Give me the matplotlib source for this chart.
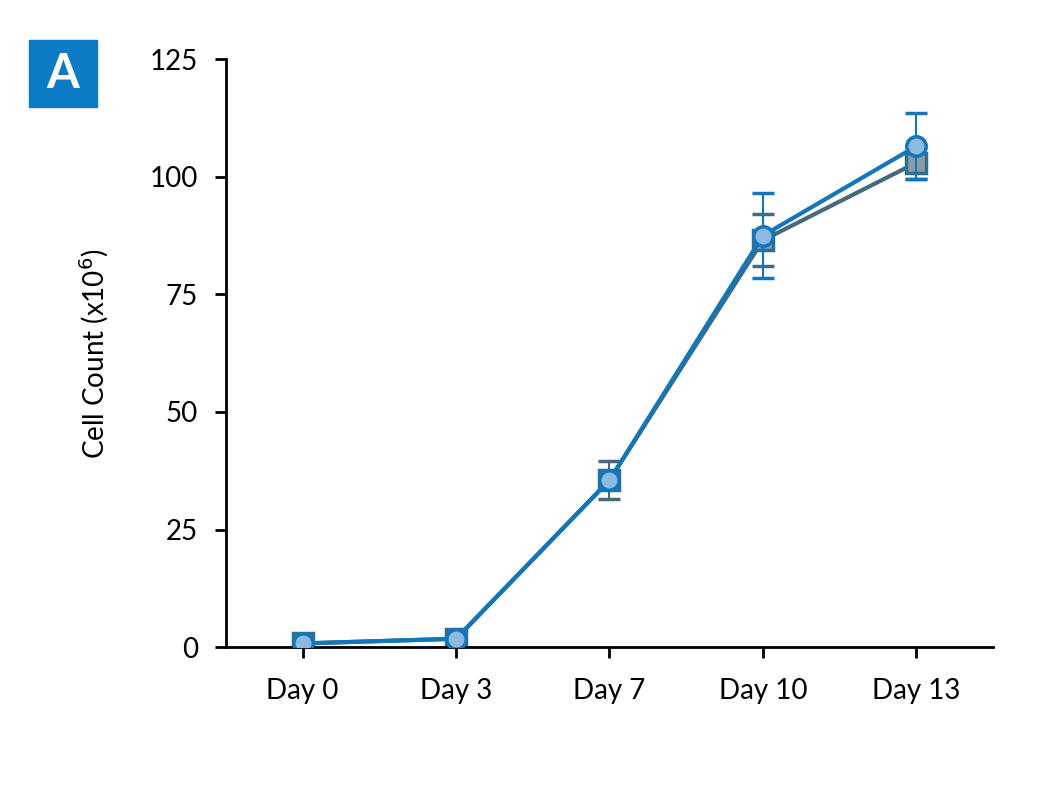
import matplotlib.pyplot as plt
from matplotlib.patches import Rectangle

days = ["Day 0", "Day 3", "Day 7", "Day 10", "Day 13"]
x = [0, 1, 2, 3, 4]

square_mean = [0.8, 1.8, 35.5, 86.5, 103.0]
square_err = [0, 0, 4.0, 5.5, 3.5]
circle_mean = [0.8, 1.8, 35.5, 87.5, 106.5]
circle_err = [0, 0, 0, 9.0, 7.0]

plt.rcParams['font.family'] = ['Lato', 'DejaVu Sans']

fig = plt.figure(figsize=(10.53, 8), dpi=100)
ax = fig.add_axes([0.2146, 0.191, 0.7284, 0.735])

ax.errorbar(x, square_mean, yerr=square_err, color='#456a7e', lw=3,
            marker='s', ms=15, mfc='#8f9aa3', mec='#2f6e95', mew=2.5,
            ecolor='#456a7e', elinewidth=1.5, capsize=8, capthick=1.5, zorder=2)
ax.errorbar(x, circle_mean, yerr=circle_err, color='#1176bc', lw=3,
            marker='o', ms=14, mfc='#8bbbe0', mec='#1176bc', mew=2.5,
            ecolor='#1176bc', elinewidth=1.5, capsize=8, capthick=1.5, zorder=3)

ax.set_xlim(-0.5, 4.5)
ax.set_ylim(0, 125)
ax.set_yticks([0, 25, 50, 75, 100, 125])
ax.set_xticks(x)
ax.set_xticklabels(days)
ax.spines['top'].set_visible(False)
ax.spines['right'].set_visible(False)
ax.spines['left'].set_linewidth(2)
ax.spines['bottom'].set_linewidth(2)
ax.tick_params(axis='both', labelsize=20, width=2, length=8)
ax.tick_params(axis='x', pad=14)
ax.tick_params(axis='y', pad=12)
ax.set_ylabel("Cell Count (x10$^6$)", fontsize=20, labelpad=28)

fig.patches.append(Rectangle((29 / 1053, 1 - 107 / 800), 68 / 1053, 67 / 800,
                             transform=fig.transFigure, color='#0a7bc4'))
fig.text(63 / 1053, 1 - 74 / 800, "A", color='white', fontsize=34,
         fontweight='bold', ha='center', va='center')

fig.savefig("out.png", dpi=100)
